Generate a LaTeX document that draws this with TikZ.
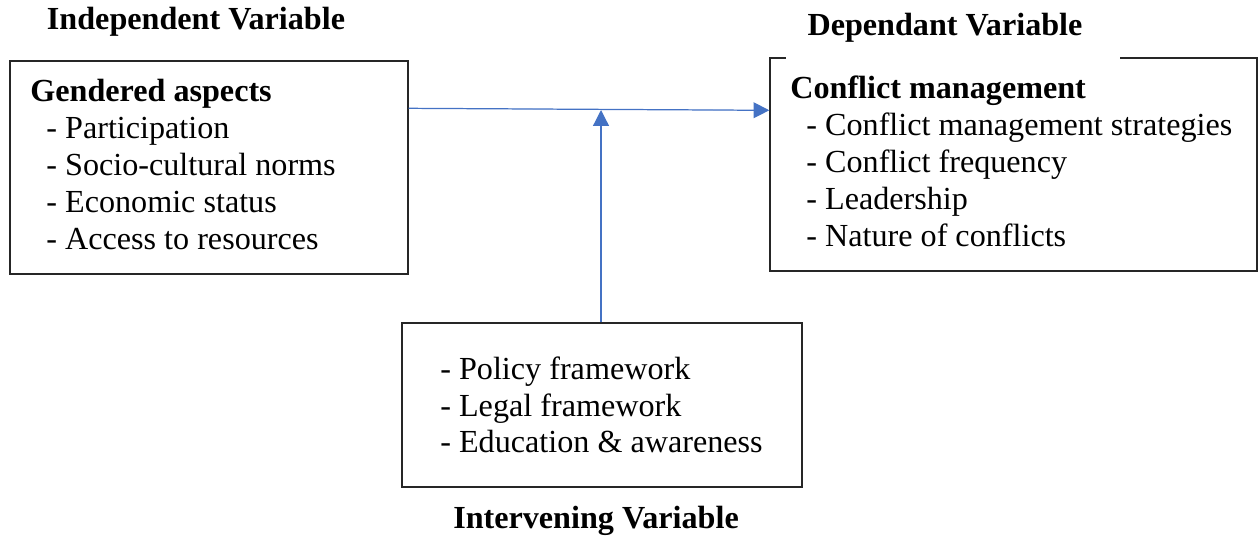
\documentclass[tikz,border=0pt]{standalone}
\usepackage{fontspec}
\setmainfont{Liberation Serif}
\usetikzlibrary{arrows.meta,calc}

\tikzset{
  varbox/.style={draw=black!85, line width=0.8pt, inner sep=0pt},
  varlist/.style={anchor=north west, align=left, inner sep=0pt,
    font=\fontsize{18.3}{21}\selectfont},
  vartitle/.style={font=\fontsize{18.3}{21}\selectfont\bfseries, inner sep=0pt},
  flow/.style={draw={rgb,255:red,68;green,114;blue,196}, line width=0.7pt,
    -{Triangle[length=9pt, width=9pt]}, fill={rgb,255:red,68;green,114;blue,196}}
}

\begin{document}
\begin{tikzpicture}[x=0.02cm, y=-0.02cm]

  \useasboundingbox (0,0) rectangle (1260,543);

  % -- Independent variable --
  \node[vartitle] (indeptitle) at (196,22) {Independent Variable};
  \node[varbox, minimum width=7.96cm, minimum height=4.26cm] (indep) at (209,167.5) {};
  \node[varlist] (indeplist) at (30,79) {\textbf{Gendered aspects}\\
    \hspace{0.5em}- Participation\\
    \hspace{0.5em}- Socio-cultural norms\\
    \hspace{0.5em}- Economic status\\
    \hspace{0.5em}- Access to resources};

  % -- Dependant variable --
  \node[varbox, minimum width=9.74cm, minimum height=4.26cm] (dep) at (1013.5,164.5) {};
  \fill[white] (786,55) rectangle (1120,62);
  \node[vartitle] (deptitle) at (945,28) {Dependant Variable};
  \node[varlist] (deplist) at (790,76) {\textbf{Conflict management}\\
    \hspace{0.5em}- Conflict management strategies\\
    \hspace{0.5em}- Conflict frequency\\
    \hspace{0.5em}- Leadership\\
    \hspace{0.5em}- Nature of conflicts};

  % -- Intervening variable --
  \node[varbox, minimum width=8cm, minimum height=3.28cm] (interv) at (602,405) {};
  \node[varlist] (intervlist) at (440,357) {- Policy framework\\[-0.5pt]
    - Legal framework\\[-0.5pt]
    - Education \& awareness};
  \node[vartitle] (intervtitle) at (596,521) {Intervening Variable};

  % -- Links --
  \coordinate (meet) at (601,110);
  \draw[flow] ($(indep.north east)+(0,48)$) -- ($(dep.north west)+(0,53)$);
  \draw[flow] (interv.north -| meet) -- (meet);

\end{tikzpicture}
\end{document}
